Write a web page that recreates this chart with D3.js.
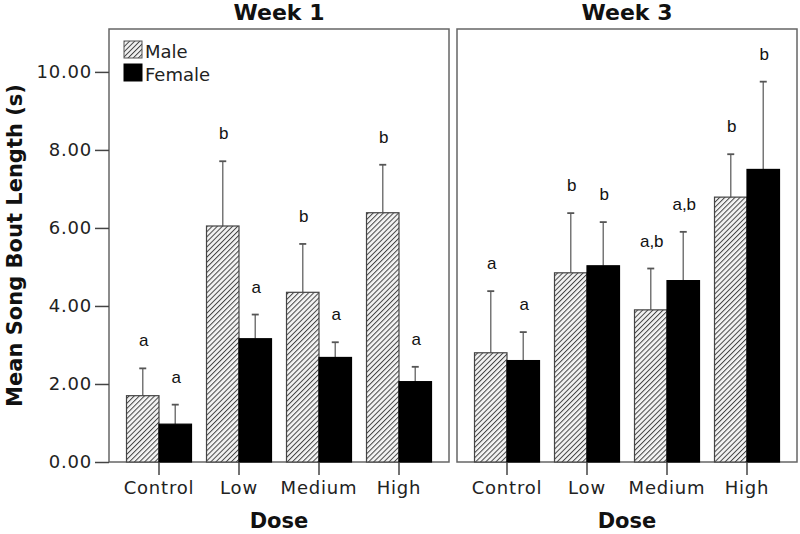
<!DOCTYPE html>
<html><head><meta charset="utf-8">
<script src="https://cdn.jsdelivr.net/npm/d3@7"></script>
<style>body{margin:0;background:#fff}</style>
</head><body>
<svg id="c" width="800" height="534"></svg>
<script>
const categories = ["Control","Low","Medium","High"];
const sexes = ["Male","Female"];
const panels = ["Week 1","Week 3"];
const yTicks = [0,2,4,6,8,10];
const week1Male = [1.70, 6.05, 4.35, 6.39];
const week1MaleErr = [2.40, 7.71, 5.59, 7.62];
const week1Female = [0.97, 3.16, 2.68, 2.06];
const week1FemaleErr = [1.47, 3.78, 3.07, 2.44];
const week3Male = [2.80, 4.85, 3.90, 6.79];
const week3MaleErr = [4.38, 6.38, 4.96, 7.89];
const week3Female = [2.60, 5.03, 4.65, 7.50];
const week3FemaleErr = [3.33, 6.15, 5.90, 9.75];
const week1MaleLetters = ["a","b","b","b"];
const week1FemaleLetters = ["a","a","a","a"];
const week3MaleLetters = ["a","b","a,b","b"];
const week3FemaleLetters = ["a","b","a,b","b"];

const panelData = [
  {name: panels[0], series: [
    {sex:"Male", vals:week1Male, err:week1MaleErr, letters:week1MaleLetters},
    {sex:"Female", vals:week1Female, err:week1FemaleErr, letters:week1FemaleLetters}]},
  {name: panels[1], series: [
    {sex:"Male", vals:week3Male, err:week3MaleErr, letters:week3MaleLetters},
    {sex:"Female", vals:week3Female, err:week3FemaleErr, letters:week3FemaleLetters}]}
];

const svg = d3.select("#c");
const defs = svg.append("defs");
const pat = defs.append("pattern").attr("id","hatch").attr("patternUnits","userSpaceOnUse")
  .attr("width",3.6).attr("height",3.6).attr("patternTransform","rotate(45)");
pat.append("rect").attr("width",3.6).attr("height",3.6).attr("fill","#f4f4f4");
pat.append("line").attr("x1",0).attr("y1",0).attr("x2",0).attr("y2",3.6)
  .attr("stroke","#444").attr("stroke-width",2);

const yTop = 29, yBottom = 462;
const y = d3.scaleLinear().domain([0, 11.1]).range([yBottom, yTop]);
const panelX = [109, 457], panelW = 340;
const tickFont = "'DejaVu Sans', sans-serif";
const colors = {Male:"url(#hatch)", Female:"#000"};

panelData.forEach((p, pi) => {
  const x0 = panelX[pi];
  const x = d3.scaleBand().domain(categories).range([x0, x0+panelW])
    .paddingInner(0.1875).paddingOuter(0.21875);
  const xs = d3.scaleBand().domain(sexes).range([0, x.bandwidth()]);
  const g = svg.append("g");

  g.append("rect").attr("x",x0).attr("y",yTop).attr("width",panelW).attr("height",yBottom-yTop)
    .attr("fill","none").attr("stroke","#666").attr("stroke-width",1.5);

  p.series.forEach(s => {
    const sg = g.append("g");
    const cx = c => x(c)+xs(s.sex)+xs.bandwidth()/2;
    sg.selectAll("line.err").data(categories).join("line").attr("class","err")
      .attr("x1", cx).attr("x2", cx)
      .attr("y1", (c,i)=>y(s.vals[i])).attr("y2",(c,i)=>y(s.err[i]))
      .attr("stroke","#777").attr("stroke-width",1.5);
    sg.selectAll("line.cap").data(categories).join("line").attr("class","cap")
      .attr("x1", c=>cx(c)-3.5).attr("x2", c=>cx(c)+3.5)
      .attr("y1", (c,i)=>y(s.err[i])).attr("y2",(c,i)=>y(s.err[i]))
      .attr("stroke","#555").attr("stroke-width",1.8);
    sg.selectAll("rect.bar").data(categories).join("rect").attr("class","bar")
      .attr("x", c=>x(c)+xs(s.sex)).attr("width", xs.bandwidth())
      .attr("y", (c,i)=>y(s.vals[i])).attr("height",(c,i)=>y(0)-y(s.vals[i]))
      .attr("fill", colors[s.sex]).attr("stroke", s.sex==="Male" ? "#444" : "#000").attr("stroke-width",1.2);
    sg.selectAll("text.let").data(categories).join("text").attr("class","let")
      .attr("x", c=>cx(c)+1)
      .attr("y", (c,i)=>y(s.err[i])-22)
      .attr("text-anchor","middle").attr("font-family","'Liberation Sans', Arial, sans-serif")
      .attr("font-size",17).attr("fill","#111").text((c,i)=>s.letters[i]);
  });

  const xa = g.append("g").attr("transform",`translate(0,${yBottom})`)
    .call(d3.axisBottom(x).tickSize(13).tickPadding(6));
  xa.select(".domain").remove();
  xa.selectAll(".tick line").attr("stroke","#444").attr("stroke-width",1.5);
  xa.selectAll(".tick text").attr("font-family",tickFont).attr("font-size",18)
    .attr("letter-spacing","0.8px").attr("fill","#222");

  g.append("text").attr("x",x0+panelW/2).attr("y",20).attr("text-anchor","middle")
    .attr("font-family",tickFont).attr("font-weight","bold").attr("font-size",22).attr("fill","#111").text(p.name);
  g.append("text").attr("x",x0+panelW/2).attr("y",528).attr("text-anchor","middle")
    .attr("font-family",tickFont).attr("font-weight","bold").attr("font-size",21).attr("fill","#111").text("Dose");
});

const ya = svg.append("g").attr("transform",`translate(${panelX[0]},0)`)
  .call(d3.axisLeft(y).tickValues(yTicks).tickSize(14).tickPadding(3).tickFormat(d3.format(".2f")));
ya.select(".domain").remove();
ya.selectAll(".tick line").attr("stroke","#444").attr("stroke-width",1.5);
ya.selectAll(".tick text").attr("font-family",tickFont).attr("font-size",18)
  .attr("letter-spacing","0.8px").attr("fill","#222");

svg.append("text").attr("transform",`translate(22,${(yTop+yBottom)/2}) rotate(-90)`)
  .attr("text-anchor","middle").attr("font-family",tickFont).attr("font-weight","bold")
  .attr("font-size",21).attr("fill","#111").text("Mean Song Bout Length (s)");

const lg = svg.append("g").attr("transform","translate(124,41)");
sexes.forEach((s,i) => {
  lg.append("rect").attr("x",0).attr("y",i*23).attr("width",18).attr("height",17)
    .attr("fill",colors[s]).attr("stroke", s==="Male" ? "#555" : "#000").attr("stroke-width",1);
  lg.append("text").attr("x",21).attr("y",i*23+17).attr("font-family",tickFont)
    .attr("font-size",18).attr("fill","#222").text(s);
});
</script>
</body></html>
